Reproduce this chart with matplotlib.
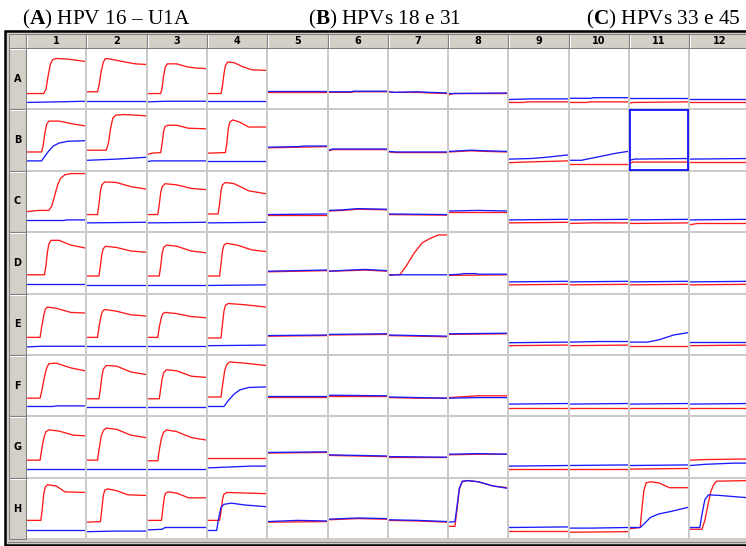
import matplotlib
matplotlib.use("Agg")
import matplotlib.pyplot as plt
from matplotlib.patches import Rectangle

# ---------------- plate data: (cycle, fluorescence %) points per well ----------------
rows = list("ABCDEFGH")
cols = [str(i) for i in range(1, 13)]
panel_titles = ["($\\mathbf{A}$) HPV 16 – U1A", "($\\mathbf{B}$) HPVs 18 e 31", "($\\mathbf{C}$) HPVs 33 e 45"]
selected_well = ("B", "11")

red_A = [
    [(0, 25), (11.5, 25), (13, 32), (14.5, 55), (16, 74), (17.5, 82), (20, 84), (28, 83), (40, 79)],
    [(0, 28), (7, 28), (8, 38), (9.5, 62), (11, 78), (12.5, 84), (16, 83), (26, 78), (33, 75), (40, 74)],
    [(0, 25), (9, 25), (10, 35), (11, 55), (12.2, 70), (13.5, 75), (20, 75), (27, 70), (33, 68), (40, 67)],
    [(0, 25), (9, 25), (10, 38), (11, 58), (12, 72), (13.5, 78), (18, 77), (24, 70), (30, 65), (40, 64)],
    [(0, 28), (40, 28)],
    [(0, 27), (16, 27), (17, 28), (40, 28)],
    [(0, 28), (4, 27), (20, 27), (28, 26), (40, 25)],
    [(0, 23), (3, 25), (40, 25)],
    [(0, 10), (10, 10), (12, 11), (40, 11)],
    [(0, 10), (12, 10), (14, 11), (40, 11)],
    [(0, 9), (2, 10), (40, 11)],
    [(0, 10), (40, 10)],
]
blue_A = [
    [(0, 10), (20, 11), (40, 12)],
    [(0, 13), (40, 13)],
    [(0, 11), (12, 12), (40, 12)],
    [(0, 13), (40, 13)],
    [(0, 28.5), (40, 28.5)],
    [(0, 28), (16, 28), (17, 29), (40, 29)],
    [(0, 28), (4, 27), (20, 28), (28, 27), (40, 26)],
    [(0, 25), (40, 26)],
    [(0, 15), (15, 16), (40, 16)],
    [(0, 17), (15, 17), (16, 18), (40, 18)],
    [(0, 17), (40, 17)],
    [(0, 16), (40, 16)],
]

red_B = [
    [(0, 30), (10, 30), (11, 40), (12.3, 62), (13.5, 77), (15, 82), (22, 82), (32, 77), (40, 74)],
    [(0, 33), (13, 33), (14.5, 45), (16, 70), (17.5, 87), (19.5, 92), (25, 93), (40, 91)],
    [(0, 26), (3, 28), (9, 29), (10, 45), (11, 65), (12, 73), (14, 75), (20, 75), (28, 70), (40, 69)],
    [(0, 28), (12, 29), (13, 45), (14, 70), (15, 80), (17, 84), (22, 80), (28, 72), (40, 72)],
    [(0, 37), (20, 38), (40, 39)],
    [(0, 32), (3, 34), (40, 34)],
    [(0, 30), (5, 29), (40, 29)],
    [(0, 30), (15, 32), (25, 31), (40, 30)],
    [(0, 12), (10, 13), (40, 15)],
    [(0, 10), (40, 10)],
    [(0, 11), (2, 13), (40, 13)],
    [(0, 13), (40, 13)],
]
blue_B = [
    [(0, 15), (10, 15), (12, 22), (15, 32), (18, 40), (22, 45), (28, 48), (40, 49)],
    [(0, 16), (20, 18), (40, 21)],
    [(0, 14), (3, 15), (40, 15)],
    [(0, 15), (40, 15)],
    [(0, 38), (20, 39), (25, 40), (40, 40)],
    [(0, 33), (3, 35), (40, 35)],
    [(0, 31), (5, 30), (40, 30)],
    [(0, 31), (15, 33), (25, 32), (40, 31)],
    [(0, 18), (15, 19), (25, 21), (40, 25)],
    [(0, 16), (8, 16), (20, 22), (32, 28), (40, 31)],
    [(0, 16), (3, 18), (40, 19)],
    [(0, 18), (40, 19)],
]

red_C = [
    [(0, 33), (8, 35), (15, 35), (17, 42), (19, 60), (21, 78), (23, 89), (26, 95), (30, 97), (40, 97)],
    [(0, 28), (7, 28), (8, 45), (9, 68), (10, 78), (12, 83), (20, 82), (30, 75), (40, 71)],
    [(0, 28), (7, 28), (8, 45), (9, 65), (10, 75), (12, 80), (20, 78), (30, 72), (40, 70)],
    [(0, 29), (7, 29), (8, 45), (9, 68), (10, 78), (12, 82), (18, 80), (28, 68), (40, 63)],
    [(0, 27), (40, 27)],
    [(0, 34), (10, 35), (20, 37), (40, 36)],
    [(0, 28), (40, 27)],
    [(0, 33), (40, 33)],
    [(0, 14), (40, 15)],
    [(0, 13), (15, 14), (40, 14)],
    [(0, 13), (40, 14)],
    [(0, 11), (5, 13), (40, 13)],
]
blue_C = [
    [(0, 18), (25, 18), (27, 19), (40, 19)],
    [(0, 14), (40, 15)],
    [(0, 14), (40, 15)],
    [(0, 14), (40, 15)],
    [(0, 28), (40, 29)],
    [(0, 35), (10, 36), (20, 38), (40, 37)],
    [(0, 29), (40, 28)],
    [(0, 34), (20, 35), (40, 34)],
    [(0, 19), (40, 20)],
    [(0, 19), (40, 20)],
    [(0, 19), (40, 20)],
    [(0, 19), (40, 20)],
]

red_D = [
    [(0, 30), (12, 30), (13, 45), (14, 68), (15, 82), (16.5, 88), (22, 88), (30, 80), (40, 75)],
    [(0, 28), (8, 28), (9, 45), (10, 65), (11, 74), (12.5, 78), (20, 76), (30, 70), (40, 68)],
    [(0, 28), (8, 28), (9, 45), (10, 66), (11, 76), (13, 80), (20, 78), (30, 70), (40, 67)],
    [(0, 28), (8, 28), (9, 48), (10, 70), (11, 80), (13, 83), (20, 80), (30, 72), (40, 69)],
    [(0, 35), (20, 36), (40, 37)],
    [(0, 36), (15, 37), (25, 38), (40, 36)],
    [(0, 30), (7.5, 30), (12, 45), (17.5, 67), (23, 84), (29, 92), (34, 97), (40, 97)],
    [(0, 29), (40, 30)],
    [(0, 13), (40, 14)],
    [(0, 13), (40, 14)],
    [(0, 13), (40, 14)],
    [(0, 13), (40, 14)],
]
blue_D = [
    [(0, 15), (40, 15)],
    [(0, 13), (40, 13)],
    [(0, 13), (40, 13)],
    [(0, 12), (40, 13)],
    [(0, 36), (20, 37), (40, 38)],
    [(0, 36), (15, 38), (25, 39), (40, 37)],
    [(0, 30), (2, 29), (4, 30), (40, 30)],
    [(0, 30), (8, 31), (10, 32), (18, 32), (20, 31), (40, 31)],
    [(0, 18), (40, 19)],
    [(0, 18), (40, 19)],
    [(0, 18), (40, 19)],
    [(0, 18), (40, 19)],
]

red_E = [
    [(0, 28), (9, 28), (10, 45), (11.5, 65), (12.5, 75), (14, 79), (20, 77), (30, 70), (40, 69)],
    [(0, 28), (7, 28), (8, 45), (9.5, 65), (10.5, 72), (12, 75), (20, 72), (30, 66), (40, 64)],
    [(0, 28), (7, 28), (8, 45), (9.5, 62), (10.5, 68), (12, 70), (20, 68), (30, 63), (40, 61)],
    [(0, 27), (9, 27), (10, 50), (11, 72), (12, 82), (14, 85), (25, 83), (40, 79)],
    [(0, 30), (40, 31)],
    [(0, 32), (40, 33)],
    [(0, 31), (20, 30), (40, 29)],
    [(0, 33), (40, 34)],
    [(0, 14), (40, 15)],
    [(0, 14), (40, 15)],
    [(0, 13), (40, 13)],
    [(0, 14), (40, 15)],
]
blue_E = [
    [(0, 12), (10, 13), (40, 13)],
    [(0, 13), (40, 13)],
    [(0, 13), (40, 13)],
    [(0, 14), (40, 15)],
    [(0, 31), (40, 32)],
    [(0, 33), (40, 34)],
    [(0, 32), (20, 31), (40, 30)],
    [(0, 34), (40, 35)],
    [(0, 19), (40, 20)],
    [(0, 20), (20, 21), (40, 21)],
    [(0, 20), (12, 20), (20, 24), (30, 32), (40, 36)],
    [(0, 20), (40, 20)],
]

red_F = [
    [(0, 29), (9, 29), (10, 40), (12, 65), (13.5, 80), (15, 87), (20, 88), (30, 80), (40, 75)],
    [(0, 28), (8, 28), (9, 45), (10, 65), (11, 78), (13, 84), (20, 83), (30, 73), (40, 69)],
    [(0, 28), (8, 28), (9, 45), (10, 62), (11, 72), (13, 77), (20, 75), (30, 66), (40, 64)],
    [(0, 31), (9, 31), (10, 50), (11.5, 75), (13, 86), (15, 90), (25, 88), (40, 84)],
    [(0, 31), (40, 31)],
    [(0, 33), (40, 33)],
    [(0, 30), (20, 29), (40, 29)],
    [(0, 30), (20, 33), (40, 33)],
    [(0, 13), (40, 13)],
    [(0, 13), (40, 13)],
    [(0, 13), (40, 13)],
    [(0, 13), (40, 13)],
]
blue_F = [
    [(0, 15), (18, 15), (20, 16), (40, 16)],
    [(0, 14), (40, 14)],
    [(0, 14), (40, 14)],
    [(0, 15), (11, 15), (14, 25), (18, 36), (22, 43), (28, 47), (40, 48)],
    [(0, 32), (40, 32)],
    [(0, 34), (40, 33)],
    [(0, 31), (20, 30), (40, 29)],
    [(0, 29), (20, 30), (40, 30)],
    [(0, 19), (40, 20)],
    [(0, 19), (40, 20)],
    [(0, 19), (40, 20)],
    [(0, 19), (40, 20)],
]

red_G = [
    [(0, 28), (9, 28), (10, 45), (11.5, 65), (13, 76), (15, 79), (22, 77), (32, 70), (40, 69)],
    [(0, 28), (7, 28), (8, 45), (9.5, 68), (11, 78), (13, 82), (20, 80), (30, 70), (40, 66)],
    [(0, 27), (7, 27), (8, 45), (9.5, 65), (11, 75), (13, 79), (20, 76), (30, 66), (40, 62)],
    [(0, 31), (40, 31)],
    [(0, 40), (40, 41)],
    [(0, 36), (20, 35), (40, 34)],
    [(0, 33), (40, 33)],
    [(0, 37), (20, 38), (40, 38)],
    [(0, 13), (40, 13)],
    [(0, 13), (40, 13)],
    [(0, 13), (40, 14)],
    [(0, 28), (10, 29), (40, 30)],
]
blue_G = [
    [(0, 13), (40, 13)],
    [(0, 13), (40, 13)],
    [(0, 13), (40, 13)],
    [(0, 15), (20, 17), (30, 18), (40, 18)],
    [(0, 41), (40, 42)],
    [(0, 37), (20, 36), (40, 35)],
    [(0, 34), (40, 33)],
    [(0, 38), (20, 39), (40, 38)],
    [(0, 18), (40, 19)],
    [(0, 19), (40, 20)],
    [(0, 19), (40, 20)],
    [(0, 19), (10, 21), (30, 23), (40, 23)],
]

red_H = [
    [(0, 30), (9.5, 30), (10.5, 50), (11.5, 75), (12.5, 86), (14, 90), (20, 88), (26, 78), (40, 77)],
    [(0, 27), (9, 28), (10, 50), (11, 72), (12, 81), (14, 83), (20, 80), (28, 73), (40, 72)],
    [(0, 30), (9.5, 30), (10.5, 50), (11.5, 70), (12.5, 76), (14, 78), (20, 76), (28, 68), (40, 68)],
    [(0, 30), (8, 30), (9, 45), (10, 65), (11, 74), (13, 77), (40, 75)],
    [(0, 27), (40, 28)],
    [(0, 31), (20, 33), (40, 32)],
    [(0, 30), (20, 29), (40, 27)],
    [(0, 20), (4, 20), (5.5, 50), (7, 82), (9, 95), (13, 97), (20, 95), (30, 88), (40, 85)],
    [(0, 12), (40, 12)],
    [(0, 10), (40, 11)],
    [(0, 16), (7, 18), (8, 45), (9.5, 80), (11, 93), (14, 95), (20, 93), (27, 85), (40, 85)],
    [(0, 15), (8, 15), (10, 30), (12, 55), (14, 78), (16, 90), (18, 96), (40, 97)],
]
blue_H = [
    [(0, 13), (40, 13)],
    [(0, 11), (20, 12), (40, 12)],
    [(0, 14), (10, 15), (12, 18), (40, 18)],
    [(0, 13), (6, 13), (7.5, 35), (9, 52), (11, 57), (16, 59), (25, 56), (40, 53)],
    [(0, 28), (20, 30), (40, 29)],
    [(0, 32), (20, 34), (40, 33)],
    [(0, 31), (20, 30), (40, 28)],
    [(0, 27), (4, 28), (5.5, 55), (7, 84), (9, 96), (13, 97), (20, 95), (30, 88), (40, 84)],
    [(0, 18), (40, 19)],
    [(0, 17), (15, 17), (40, 18)],
    [(0, 18), (7, 18), (10, 25), (14, 35), (20, 41), (28, 45), (40, 52)],
    [(0, 18), (6.5, 18), (8, 40), (10, 65), (12.5, 73), (20, 72), (40, 68)],
]

red = [red_A, red_B, red_C, red_D, red_E, red_F, red_G, red_H]
blue = [blue_A, blue_B, blue_C, blue_D, blue_E, blue_F, blue_G, blue_H]

# ---------------- layout (pixels) ----------------
W, H = 746, 546
COL0, COLW = 26, 60.3
ROW0, ROWH = 48, 61.4
HEAD_TOP = 34
LAB_LEFT = 9
FACE = "#d4d0c8"
GRID = "#cbcbcb"

plt.rcParams["mathtext.fontset"] = "custom"
plt.rcParams["mathtext.rm"] = "Liberation Serif"
plt.rcParams["mathtext.bf"] = "Liberation Serif:bold"

fig = plt.figure(figsize=(W / 100, H / 100), dpi=100)
bg = fig.add_axes([0, 0, 1, 1])
bg.set_xlim(0, W)
bg.set_ylim(H, 0)
bg.axis("off")

# plate frame
bg.add_patch(Rectangle((5, 31), 760, 514, facecolor=FACE, edgecolor="black", lw=1.8))
bg.add_patch(Rectangle((COL0, ROW0), 800, ROWH * 8, facecolor=GRID, edgecolor="none"))
bg.plot([8, 760], [541.5, 541.5], color="#808080", lw=0.8)

# header row and row labels
bg.add_patch(Rectangle((LAB_LEFT, HEAD_TOP), COL0 - LAB_LEFT, ROW0 - HEAD_TOP,
                       facecolor=FACE, edgecolor="#808080", lw=0.7))
for i, c in enumerate(cols):
    x = COL0 + COLW * i
    bg.add_patch(Rectangle((x, HEAD_TOP), COLW, ROW0 - HEAD_TOP,
                           facecolor=FACE, edgecolor="#808080", lw=0.8))
    bg.plot([x + 1, x + 1], [HEAD_TOP + 1, ROW0 - 1], color="white", lw=0.7)
    bg.text(x + COLW / 2, (HEAD_TOP + ROW0) / 2 + 0.5, c, ha="center", va="center",
            fontsize=7, fontweight="bold", family="DejaVu Sans")
for j, r in enumerate(rows):
    y = ROW0 + ROWH * j
    bg.add_patch(Rectangle((LAB_LEFT, y), COL0 - LAB_LEFT, ROWH,
                           facecolor=FACE, edgecolor="#808080", lw=0.8))
    bg.plot([LAB_LEFT + 1, COL0 - 1], [y + 1, y + 1], color="white", lw=0.7)
    bg.text((LAB_LEFT + COL0) / 2, y + ROWH / 2, r, ha="center", va="center",
            fontsize=7, fontweight="bold", family="DejaVu Sans")

# panel titles
for xt, t in zip([22, 308, 586], panel_titles):
    fig.text(xt / W, 1 - 24 / H, t, ha="left", va="baseline",
             fontsize=15.3, family="Liberation Serif")

# wells
for j, r in enumerate(rows):
    for i, c in enumerate(cols):
        x0 = COL0 + COLW * i + 1
        y0 = ROW0 + ROWH * j + 1
        w, h = COLW - 2, ROWH - 2
        ax = fig.add_axes([x0 / W, 1 - (y0 + h) / H, w / W, h / H])
        ax.set_facecolor("white")
        rx, ry = zip(*red[j][i])
        bx, by = zip(*blue[j][i])
        ax.plot(rx, ry, color="#ff1a1a", lw=0.95)
        ax.plot(bx, by, color="#1a1aff", lw=0.95)
        ax.set_xlim(0, 40)
        ax.set_ylim(0, 100)
        ax.set_xticks([])
        ax.set_yticks([])
        for s in ax.spines.values():
            s.set_visible(False)
        if (r, c) == selected_well:
            for s in ax.spines.values():
                s.set_visible(True)
                s.set_color("#0000ff")
                s.set_linewidth(1.2)

fig.savefig("out.png", dpi=100)
